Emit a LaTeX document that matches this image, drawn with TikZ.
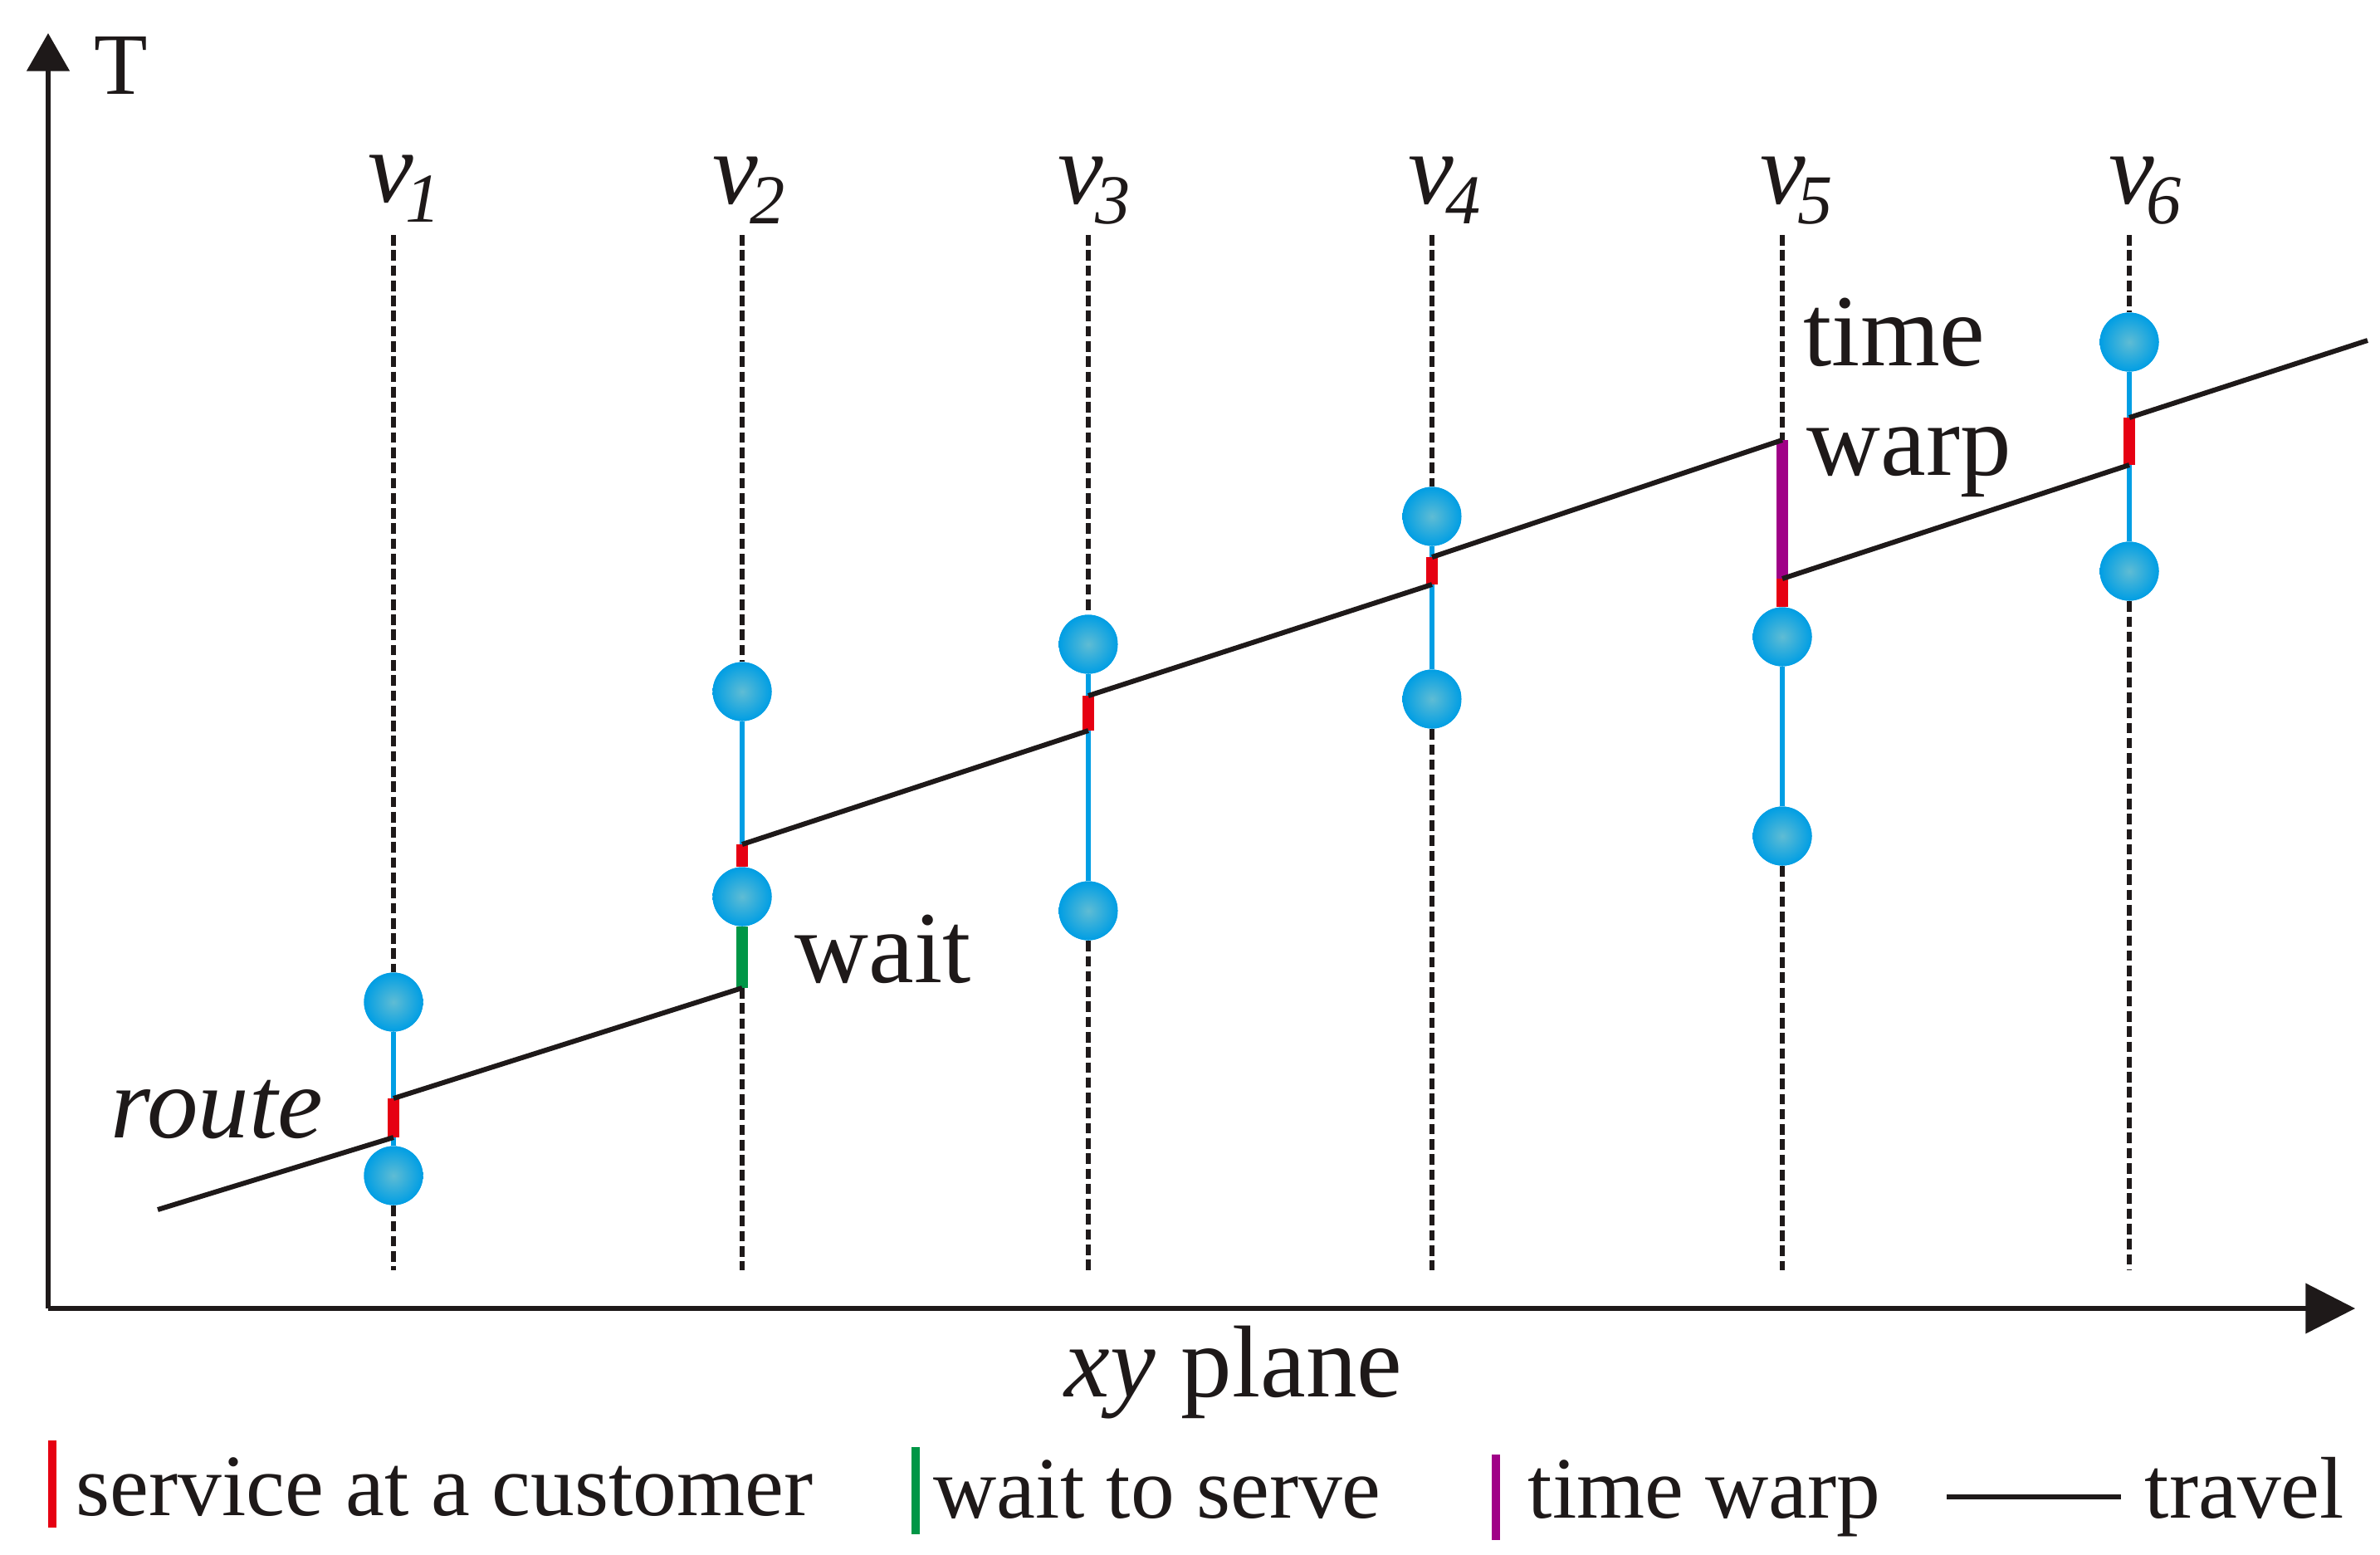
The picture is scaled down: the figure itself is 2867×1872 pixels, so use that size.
\documentclass[tikz,border=0pt]{standalone}
\usepackage{fontspec}
\setmainfont{Liberation Serif}
\usetikzlibrary{arrows.meta}
\definecolor{cblue}{RGB}{0,158,228}
\definecolor{cblueL}{RGB}{95,188,212}
\definecolor{cred}{RGB}{230,0,18}
\definecolor{cgreen}{RGB}{0,150,70}
\definecolor{cpurple}{RGB}{160,0,135}
\definecolor{ink}{RGB}{30,25,25}
\tikzset{
  axisline/.style={line width=1.5pt, draw=ink},
  guide/.style={line width=1.6pt, draw=ink, dash pattern=on 3.6pt off 1.6pt},
  travel/.style={line width=1.7pt, draw=ink},
  win/.style={line width=1.9pt, draw=cblue},
  serv/.style={line width=3.8pt, draw=cred},
  waitseg/.style={line width=3.8pt, draw=cgreen},
  warpseg/.style={line width=3.8pt, draw=cpurple},
  legbar/.style={line width=3.1pt},
  ball/.style={circle, minimum size=0.71cm, inner sep=0pt, inner color=cblueL, outer color=cblue},
  lab/.style={font=\fontsize{35}{40}\selectfont, text=ink, inner sep=0pt, anchor=base west},
  leg/.style={font=\fontsize{30}{36}\selectfont, text=ink, inner sep=0pt, anchor=base west},
}
\newcommand{\vsub}[1]{{\itshape v}\kern-0.08em\raisebox{-0.2em}{\fontsize{24}{24}\selectfont\itshape #1}}
\begin{document}
\begin{tikzpicture}[x=0.01cm, y=-0.01cm]
\useasboundingbox (0,0) rectangle (2867,1872);
\fill[white] (0,0) rectangle (2867,1872);

% axes
\coordinate (O) at (58,1576);
\coordinate (Ytip) at (58,40);
\coordinate (Xtip) at (2837,1576);
\draw[axisline, -{Triangle[length=13pt,width=14.5pt]}] (O) -- (Ytip);
\draw[axisline, -{Triangle[length=17pt,width=17pt]}] (O) -- (Xtip);
\node[lab, font=\fontsize{30}{36}\selectfont] (Tlab) at (113,113) {T};
\node[lab] (xylab) at (1282,1682) {{\itshape xy} plane};

% column labels
\node[lab] (l1) at (443,243) {\vsub{1}};
\node[lab] (l2) at (858,245) {\vsub{2}};
\node[lab] (l3) at (1274,245) {\vsub{3}};
\node[lab] (l4) at (1696,245) {\vsub{4}};
\node[lab] (l5) at (2120,245) {\vsub{5}};
\node[lab] (l6) at (2540,245) {\vsub{6}};

% balls
\node[ball] (b1a) at (474,1207) {};
\node[ball] (b1b) at (474,1416) {};
\node[ball] (b2a) at (894,833) {};
\node[ball] (b2b) at (894,1080) {};
\node[ball] (b3a) at (1311,776) {};
\node[ball] (b3b) at (1311,1097) {};
\node[ball] (b4a) at (1725,622) {};
\node[ball] (b4b) at (1725,842) {};
\node[ball] (b5a) at (2147,767) {};
\node[ball] (b5b) at (2147,1007) {};
\node[ball] (b6a) at (2565,412) {};
\node[ball] (b6b) at (2565,688) {};

% guide tops / bottoms
\coordinate (t1) at (474,283);  \coordinate (u1) at (474,1530);
\coordinate (t2) at (894,283);  \coordinate (u2) at (894,1530);
\coordinate (t3) at (1311,283); \coordinate (u3) at (1311,1530);
\coordinate (t4) at (1725,283); \coordinate (u4) at (1725,1530);
\coordinate (t5) at (2147,283); \coordinate (u5) at (2147,1530);
\coordinate (t6) at (2565,283); \coordinate (u6) at (2565,1530);

% route points
\coordinate (r0) at (190,1457);
\coordinate (a1) at (474,1370);  \coordinate (d1) at (474,1323);
\coordinate (a2) at (894,1190);  \coordinate (d2) at (894,1017);
\coordinate (a3) at (1311,880);  \coordinate (d3) at (1311,838);
\coordinate (a4) at (1725,704);  \coordinate (d4) at (1725,671);
\coordinate (a5) at (2147,530);  \coordinate (d5) at (2147,697);
\coordinate (a6) at (2565,560);  \coordinate (d6) at (2565,503);
\coordinate (r7) at (2852,410);

% dashed guides
\draw[guide] (t1) -- (b1a.north); \draw[guide] (b1b.south) -- (u1);
\draw[guide] (t2) -- (b2a.north); \draw[guide] (a2) -- (u2);
\draw[guide] (t3) -- (b3a.north); \draw[guide] (b3b.south) -- (u3);
\draw[guide] (t4) -- (b4a.north); \draw[guide] (b4b.south) -- (u4);
\draw[guide] (t5) -- (a5);        \draw[guide] (b5b.south) -- (u5);
\draw[guide] (t6) -- (b6a.north); \draw[guide] (b6b.south) -- (u6);

% time windows
\draw[win] (b1a.south) -- (d1); \draw[win] (a1) -- (b1b.north);
\draw[win] (b2a.south) -- (d2);
\draw[win] (b3a.south) -- (d3); \draw[win] (a3) -- (b3b.north);
\draw[win] (b4a.south) -- (d4); \draw[win] (a4) -- (b4b.north);
\draw[win] (b5a.south) -- (b5b.north);
\draw[win] (b6a.south) -- (d6); \draw[win] (a6) -- (b6b.north);

% service / wait / warp
\draw[serv] (d1) -- (a1);
\draw[serv] (d2) -- (b2b.north);
\draw[waitseg] (b2b.south) -- (a2);
\draw[serv] (d3) -- (a3);
\draw[serv] (d4) -- (a4);
\draw[warpseg] (a5) -- (d5);
\draw[serv] (d5) -- (b5a.north);
\draw[serv] (d6) -- (a6);

% redraw balls on top
\foreach \b in {b1a,b1b,b2a,b2b,b3a,b3b,b4a,b4b,b5a,b5b,b6a,b6b}
  \shade[inner color=cblueL, outer color=cblue] (\b.center) circle[radius=35.5];

% travel
\draw[travel] (r0) -- (a1);
\draw[travel] (d1) -- (a2);
\draw[travel] (d2) -- (a3);
\draw[travel] (d3) -- (a4);
\draw[travel] (d4) -- (a5);
\draw[travel] (d5) -- (a6);
\draw[travel] (d6) -- (r7);

% labels
\node[lab, font=\fontsize{35}{40}\selectfont\itshape] (route) at (133,1370) {route};
\node[lab] (waitlab) at (957,1183) {wait};
\node[lab] (timelab) at (2172,440) {time};
\node[lab] (warplab) at (2176,572) {warp};

% legend
\coordinate (k1a) at (63,1735);   \coordinate (k1b) at (63,1840);
\coordinate (k2a) at (1103,1743); \coordinate (k2b) at (1103,1848);
\coordinate (k3a) at (1802,1752); \coordinate (k3b) at (1802,1855);
\coordinate (k4a) at (2345,1803); \coordinate (k4b) at (2555,1803);
\draw[legbar, draw=cred] (k1a) -- (k1b);
\draw[legbar, draw=cgreen] (k2a) -- (k2b);
\draw[legbar, draw=cpurple] (k3a) -- (k3b);
\draw[line width=1.9pt, draw=ink] (k4a) -- (k4b);
\node[leg] (g1) at (91,1825) {service at a customer};
\node[leg] (g2) at (1124,1828) {wait to serve};
\node[leg] (g3) at (1840,1828) {time warp};
\node[leg] (g4) at (2583,1828) {travel};
\end{tikzpicture}
\end{document}
